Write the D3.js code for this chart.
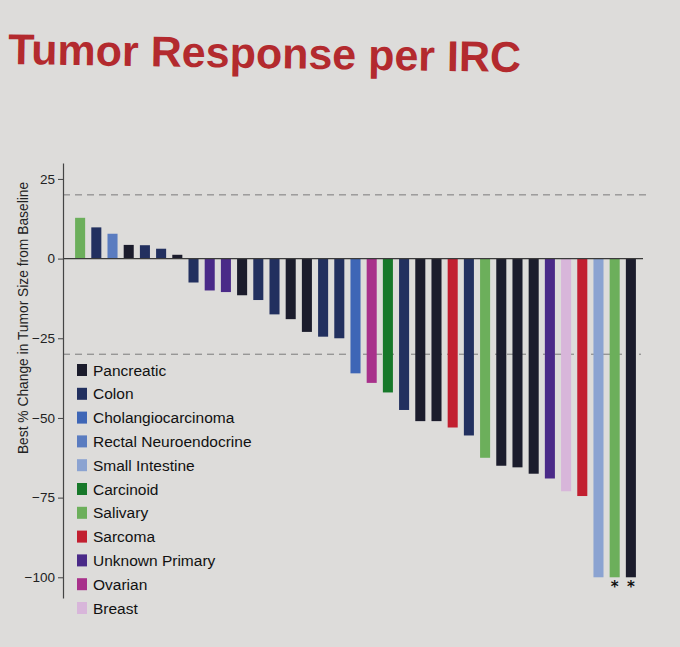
<!DOCTYPE html>
<html>
<head>
<meta charset="utf-8">
<script src="https://cdn.jsdelivr.net/npm/d3@7"></script>
<style>
  html, body { margin: 0; padding: 0; background: #dcdbd9; }
  svg { display: block; }
</style>
</head>
<body>
<div id="chart"></div>
<script>
// Tumor Response per IRC — waterfall of best % change per patient
(function () {
  "use strict";

  // --- Data ---
  var tumorTypes = [
    "Pancreatic", "Colon", "Cholangiocarcinoma", "Rectal Neuroendocrine",
    "Small Intestine", "Carcinoid", "Salivary", "Sarcoma",
    "Unknown Primary", "Ovarian", "Breast"
  ];
  var typeColors = [
    "#1b1c2c", "#22305f", "#3e66b6", "#5a7cc0",
    "#8ba3d1", "#17782a", "#6caf5b", "#c21f30",
    "#4a2a88", "#a8318b", "#d8b6da"
  ];

  // one entry per patient, sorted as on the poster
  var patientTypes = [
    "Salivary", "Colon", "Rectal Neuroendocrine", "Pancreatic", "Colon", "Colon", "Pancreatic",
    "Colon", "Unknown Primary", "Unknown Primary", "Pancreatic", "Colon", "Colon", "Pancreatic",
    "Pancreatic", "Colon", "Colon", "Cholangiocarcinoma", "Ovarian", "Carcinoid", "Colon",
    "Pancreatic", "Pancreatic", "Sarcoma", "Colon", "Salivary", "Pancreatic", "Pancreatic",
    "Pancreatic", "Unknown Primary", "Breast", "Sarcoma", "Small Intestine", "Salivary", "Pancreatic"
  ];
  var bestChange = [
    12.8, 9.8, 7.8, 4.3, 4.2, 3.1, 1.2,
    -7.5, -10, -10.5, -11.5, -13, -17.5, -19,
    -23, -24.5, -25, -36, -39, -42, -47.5,
    -51, -51, -53, -55.5, -62.5, -65, -65.5,
    -67.5, -69, -73, -74.5, -100, -100, -100
  ];
  var starred = [33, 34];

  var yTicks = [25, 0, -25, -50, -75, -100];
  var refLines = [20, -30];

  // --- Layout ---
  var width = 680, height = 647;
  var axisX = 63;

  var svg = d3.select("#chart").append("svg")
    .attr("width", width)
    .attr("height", height);

  svg.append("rect")
    .attr("width", width)
    .attr("height", height)
    .attr("fill", "#dddcda");

  // title (photo is tilted a little)
  svg.append("text")
    .attr("x", 8)
    .attr("y", 64)
    .attr("transform", "rotate(0.9,8,64)")
    .attr("font-family", "Liberation Sans, Arial, sans-serif")
    .attr("font-weight", "bold")
    .attr("font-size", "43px")
    .attr("fill", "#b32a2e")
    .text("Tumor Response per IRC");

  var color = d3.scaleOrdinal().domain(tumorTypes).range(typeColors);

  var x = d3.scaleBand()
    .domain(d3.range(bestChange.length))
    .range([67, 644])
    .paddingInner(0.38)
    .paddingOuter(0.5);

  var y = d3.scaleLinear()
    .domain([30, -106.5])
    .range([163, 598]);

  // --- Reference lines ---
  svg.selectAll("line.ref")
    .data(refLines)
    .enter()
    .append("line")
    .attr("class", "ref")
    .attr("x1", axisX)
    .attr("x2", function (d) { return d > 0 ? 646 : 641; })
    .attr("y1", function (d) { return y(d); })
    .attr("y2", function (d) { return y(d); })
    .attr("stroke", "#7a7a7a")
    .attr("stroke-width", 1)
    .attr("stroke-dasharray", "7,5");

  // --- Bars ---
  svg.selectAll("rect.bar")
    .data(bestChange)
    .enter()
    .append("rect")
    .attr("class", "bar")
    .attr("x", function (d, i) { return x(i); })
    .attr("width", x.bandwidth())
    .attr("y", function (d) { return y(Math.max(0, d)); })
    .attr("height", function (d) { return Math.abs(y(d) - y(0)); })
    .attr("fill", function (d, i) { return color(patientTypes[i]); });

  // zero line
  svg.append("line")
    .attr("x1", axisX)
    .attr("x2", 643)
    .attr("y1", y(0))
    .attr("y2", y(0))
    .attr("stroke", "#3a3a3a")
    .attr("stroke-width", 1.2);

  // stars under confirmed responses
  svg.selectAll("text.star")
    .data(starred)
    .enter()
    .append("text")
    .attr("class", "star")
    .attr("x", function (i) { return x(i) + x.bandwidth() / 2; })
    .attr("y", function (i) { return y(bestChange[i]) + 15; })
    .attr("text-anchor", "middle")
    .attr("font-family", "DejaVu Sans, sans-serif")
    .attr("font-weight", "bold")
    .attr("font-size", "15px")
    .attr("fill", "#111")
    .text("*");

  // --- Y axis ---
  var yAxis = d3.axisLeft(y)
    .tickValues(yTicks)
    .tickSizeInner(5)
    .tickSizeOuter(0)
    .tickPadding(3)
    .tickFormat(d3.format("d"));

  var gAxis = svg.append("g")
    .attr("transform", "translate(" + axisX + ",0)")
    .call(yAxis);

  gAxis.select(".domain")
    .attr("stroke", "#444")
    .attr("stroke-width", 1.2);
  gAxis.selectAll(".tick line")
    .attr("stroke", "#444");
  gAxis.selectAll(".tick text")
    .attr("font-family", "Liberation Sans, Arial, sans-serif")
    .attr("font-size", "13.5px")
    .attr("fill", "#222");

  svg.append("text")
    .attr("transform", "translate(28,318) rotate(-90)")
    .attr("text-anchor", "middle")
    .attr("font-family", "Liberation Sans, Arial, sans-serif")
    .attr("font-size", "13.8px")
    .attr("fill", "#222")
    .text("Best % Change in Tumor Size from Baseline");

  // --- Legend ---
  var legend = svg.append("g")
    .attr("transform", "translate(77,370)");

  var item = legend.selectAll("g.item")
    .data(tumorTypes)
    .enter()
    .append("g")
    .attr("class", "item")
    .attr("transform", function (d, i) { return "translate(0," + (i * 23.8) + ")"; });

  item.append("rect")
    .attr("x", 0)
    .attr("y", -6)
    .attr("width", 10)
    .attr("height", 12)
    .attr("fill", function (d) { return color(d); });

  item.append("text")
    .attr("x", 16)
    .attr("y", 5.5)
    .attr("font-family", "Liberation Sans, Arial, sans-serif")
    .attr("font-size", "15.5px")
    .attr("fill", "#111")
    .text(function (d) { return d; });
})();
</script>
</body>
</html>
